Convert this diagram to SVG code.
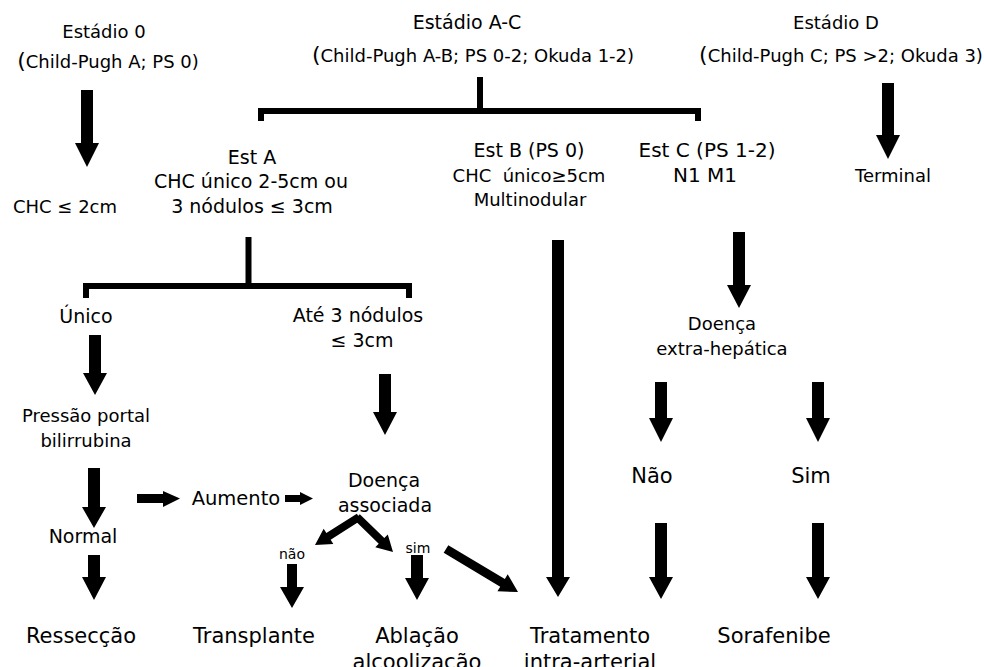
<svg xmlns="http://www.w3.org/2000/svg" width="984" height="667" viewBox="0 0 984 667">
<style>
text{font-family:"DejaVu Sans","Liberation Sans",sans-serif;font-size:18px;fill:#000;text-anchor:middle;white-space:pre}
.par{font-size:22px}
.sm{font-size:14px}
.m{font-size:19px}
.l20{font-size:20px}
.lg{font-size:21px}
.arr{fill:#000;stroke:none}
.br{fill:none;stroke:#000;stroke-width:6;stroke-linecap:butt;stroke-linejoin:miter}
</style>
<rect width="984" height="667" fill="#fff"/>
<g id="connectors">
<path class="br" d="M261,121 V111 H698 V121"/>
<path class="br" d="M480,77 V111"/>
<path class="br" d="M86,298 V286 H409 V298"/>
<path class="br" d="M248.5,237 V286"/>
<path class="arr" d="M81,90 H93 V143 H99 L87,167 L75,143 H81 Z"/>
<path class="arr" d="M882,83 H894 V135 H900 L888,159 L876,135 H882 Z"/>
<path class="arr" d="M89,335 H101 V373 H107 L95,395 L83,373 H89 Z"/>
<path class="arr" d="M88,468 H100 V507 H106 L94,528 L82,507 H88 Z"/>
<path class="arr" d="M88,555 H100 V577 H106 L94,600 L82,577 H88 Z"/>
<path class="arr" d="M379,374 H391 V412 H397 L385,435 L373,412 H379 Z"/>
<path class="arr" d="M287,564 H297 V587 H304 L292,608 L280,587 H287 Z"/>
<path class="arr" d="M411,555 H423 V578 H429 L417,600 L405,578 H411 Z"/>
<path class="arr" d="M552,240 H564 V577 H570 L558,597 L546,577 H552 Z"/>
<path class="arr" d="M733,232 H745 V285 H751 L739,308 L727,285 H733 Z"/>
<path class="arr" d="M655,382 H667 V418 H673 L661,442 L649,418 H655 Z"/>
<path class="arr" d="M812,382 H824 V418 H830 L818,442 L806,418 H812 Z"/>
<path class="arr" d="M655,523 H667 V577 H673 L661,599 L649,577 H655 Z"/>
<path class="arr" d="M812,523 H824 V577 H830 L818,599 L806,577 H812 Z"/>
<path class="arr" d="M137,494 H163 V491 L180,498.5 L163,507 V503 H137 Z"/>
<path class="arr" d="M285,495 H300 V492 L313,498.5 L300,505 V502 H285 Z"/>
<path class="arr" d="M356.85,513.63 L326.35,533.03 L323.67,528.81 L315,545 L333.33,543.99 L330.65,539.77 L361.15,520.37 Z"/>
<path class="arr" d="M354.21,519.87 L378.74,543.72 L375.26,547.3 L393,552 L387.8,534.4 L384.32,537.98 L359.79,514.13 Z"/>
<path class="arr" d="M443.69,552.86 L500.24,586.63 L497.42,591.36 L518,592 L507.68,574.18 L504.86,578.91 L448.31,545.14 Z"/>
</g>
<g id="estadio0">
<text x="104" y="38">Estádio 0</text>
<text x="108" y="68"><tspan class="par">(</tspan>Child-Pugh A; PS 0)</text>
</g>
<g id="estadioAC">
<text class="m" x="467" y="29">Estádio A-C</text>
<text x="473" y="62"><tspan class="par">(</tspan>Child-Pugh A-B; PS 0-2; Okuda 1-2)</text>
</g>
<g id="estadioD">
<text x="836" y="29">Estádio D</text>
<text x="841" y="62"><tspan class="par">(</tspan>Child-Pugh C; PS &gt;2; Okuda 3)</text>
</g>
<g id="terminal"><text x="893" y="182">Terminal</text></g>
<g id="chc2"><text x="65" y="213">CHC ≤ 2cm</text></g>
<g id="estA">
<text class="m" x="252" y="164">Est A</text>
<text class="m" x="251" y="188">CHC único 2-5cm ou</text>
<text class="m" x="252" y="213">3 nódulos ≤ 3cm</text>
</g>
<g id="estB">
<text class="m" x="529" y="157">Est B (PS 0)</text>
<text x="529" y="181.5">CHC  único≥5cm</text>
<text x="530" y="206">Multinodular</text>
</g>
<g id="estC">
<text class="l20" x="707" y="157">Est C (PS 1-2)</text>
<text class="l20" x="705" y="181.5">N1 M1</text>
</g>
<g id="unico"><text class="m" x="86" y="323">Único</text></g>
<g id="ate3">
<text class="m" x="358" y="322">Até 3 nódulos</text>
<text class="m" x="362" y="347">≤ 3cm</text>
</g>
<g id="pressao">
<text x="86" y="422">Pressão portal</text>
<text x="86" y="447">bilirrubina</text>
</g>
<g id="normal"><text class="m" x="83" y="543">Normal</text></g>
<g id="aumento"><text x="236" y="505" style="font-size:19.5px">Aumento</text></g>
<g id="doencaAssoc">
<text class="m" x="384" y="487">Doença</text>
<text class="m" x="385" y="512">associada</text>
</g>
<g id="nao-label"><text class="sm" x="292" y="559">não</text></g>
<g id="sim-label"><text class="sm" x="418" y="553">sim</text></g>
<g id="doencaExtra">
<text x="722" y="330">Doença</text>
<text x="722" y="355">extra-hepática</text>
</g>
<g id="nao"><text class="lg" x="652" y="483">Não</text></g>
<g id="sim"><text class="lg" x="811" y="483">Sim</text></g>
<g id="resseccao"><text class="lg" x="81" y="643">Ressecção</text></g>
<g id="transplante"><text class="lg" x="254" y="643">Transplante</text></g>
<g id="ablacao">
<text class="lg" x="417" y="643">Ablação</text>
<text class="lg" x="417" y="669">alcoolização</text>
</g>
<g id="tratamento">
<text class="lg" x="590" y="643">Tratamento</text>
<text class="lg" x="590" y="669">intra-arterial</text>
</g>
<g id="sorafenibe"><text class="lg" x="774" y="643">Sorafenibe</text></g>
</svg>
